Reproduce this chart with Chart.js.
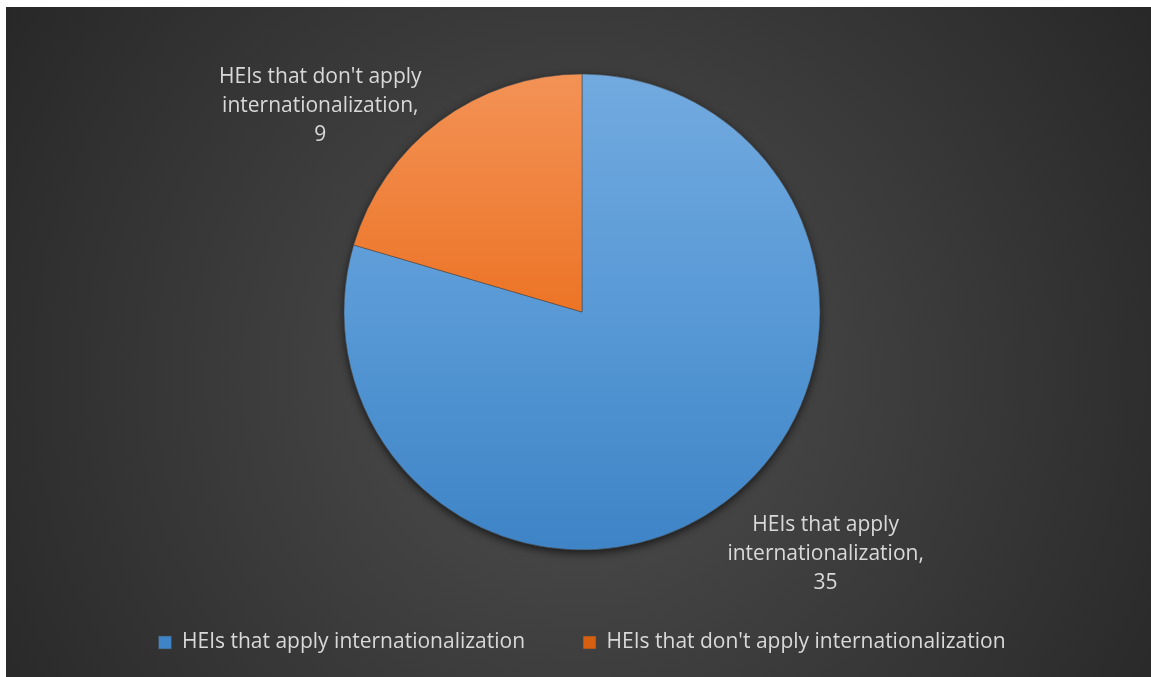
<!DOCTYPE html>
<html>
<head>
<meta charset="utf-8">
<script src="https://cdn.jsdelivr.net/npm/chart.js@4.4.0/dist/chart.umd.min.js"></script>
<style>
  html, body { margin: 0; padding: 0; background: #fff; }
  #wrap { position: absolute; left: 6px; top: 7px; width: 1145px; height: 670px; }
</style>
</head>
<body>
<div id="wrap"><canvas id="chart"></canvas></div>
<script>
const categories = ['HEIs that apply internationalization', "HEIs that don't apply internationalization"];
const counts = [35, 9];

const FONT = '"Open Sans", "Noto Sans", sans-serif';
const TEXT = '#d9d9d9';
const PIE_R = 238;

// top / middle / bottom colours of each slice's vertical gradient
const sliceStops = [
  ['#72aadf', '#5899d6', '#3e84c6'],
  ['#f39256', '#ec7426', '#d65f10'],
];
// extra shift of each data label box, px
const labelNudge = [[-2, 2], [-13, 34]];

function sliceFill(ctx) {
  const stops = sliceStops[ctx.dataIndex];
  const area = ctx.chart.chartArea;
  if (!area) return stops[1];
  const cy = (area.top + area.bottom) / 2;
  const g = ctx.chart.ctx.createLinearGradient(0, cy - PIE_R, 0, cy + PIE_R);
  g.addColorStop(0, stops[0]);
  g.addColorStop(0.5, stops[1]);
  g.addColorStop(1, stops[2]);
  return g;
}

const backdrop = {
  id: 'backdrop',
  beforeDraw(chart) {
    const { ctx, width, height } = chart;
    const g = ctx.createRadialGradient(width / 2, height * 0.55, 0, width / 2, height * 0.55, width * 0.62);
    g.addColorStop(0, '#4f4f4f');
    g.addColorStop(1, '#262626');
    ctx.save();
    ctx.fillStyle = g;
    ctx.fillRect(0, 0, width, height);
    ctx.restore();
  },
  beforeDatasetsDraw(chart) {
    // soft shadow under the pie
    const arc = chart.getDatasetMeta(0).data[0];
    if (!arc) return;
    const { ctx } = chart;
    ctx.save();
    ctx.shadowColor = 'rgba(0,0,0,0.65)';
    ctx.shadowBlur = 9;
    ctx.shadowOffsetY = 3;
    ctx.fillStyle = '#3c3c3c';
    ctx.beginPath();
    ctx.arc(arc.x, arc.y, arc.outerRadius, 0, Math.PI * 2);
    ctx.fill();
    ctx.restore();
  }
};

const sliceLabels = {
  id: 'sliceLabels',
  afterDatasetsDraw(chart) {
    const { ctx } = chart;
    const meta = chart.getDatasetMeta(0);
    const lineH = 29;
    ctx.save();
    ctx.font = '21px ' + FONT;
    ctx.fillStyle = TEXT;
    ctx.textAlign = 'center';
    ctx.textBaseline = 'middle';
    meta.data.forEach((arc, i) => {
      // wrap the category name, value on its own line
      const words = chart.data.labels[i].split(' ');
      const lines = [];
      let cur = '';
      words.forEach(w => {
        const t = cur ? cur + ' ' + w : w;
        if (ctx.measureText(t).width > 250 && cur) { lines.push(cur); cur = w; } else cur = t;
      });
      lines.push(cur);
      lines[lines.length - 1] += ',';
      lines.push(String(chart.data.datasets[0].data[i]));

      const w = Math.max(...lines.map(l => ctx.measureText(l).width));
      const h = lines.length * lineH;
      const mid = (arc.startAngle + arc.endAngle) / 2;
      const dx = Math.cos(mid), dy = Math.sin(mid);
      const ax = arc.x + dx * (arc.outerRadius + 8);
      const ay = arc.y + dy * (arc.outerRadius + 8);
      const cx = ax + Math.sign(dx) * w / 2 + labelNudge[i][0];
      const cy = ay + Math.sign(dy) * h / 2 + labelNudge[i][1];
      lines.forEach((l, k) => ctx.fillText(l, cx, cy - h / 2 + lineH * (k + 0.5)));
    });
    ctx.restore();
  }
};

new Chart(document.getElementById('chart'), {
  type: 'pie',
  data: {
    labels: categories,
    datasets: [{
      data: counts,
      backgroundColor: sliceFill,
      borderColor: 'rgba(70,70,70,0.55)',
      borderWidth: 1,
      radius: PIE_R
    }]
  },
  options: {
    responsive: true,
    maintainAspectRatio: false,
    animation: false,
    layout: { padding: { top: 43, bottom: 14, left: 7, right: 0 } },
    plugins: {
      legend: {
        position: 'bottom',
        labels: {
          color: TEXT,
          font: { family: FONT, size: 21 },
          boxWidth: 13,
          boxHeight: 13,
          padding: 58
        }
      },
      tooltip: { enabled: false }
    }
  },
  plugins: [backdrop, sliceLabels]
});
</script>
</body>
</html>
